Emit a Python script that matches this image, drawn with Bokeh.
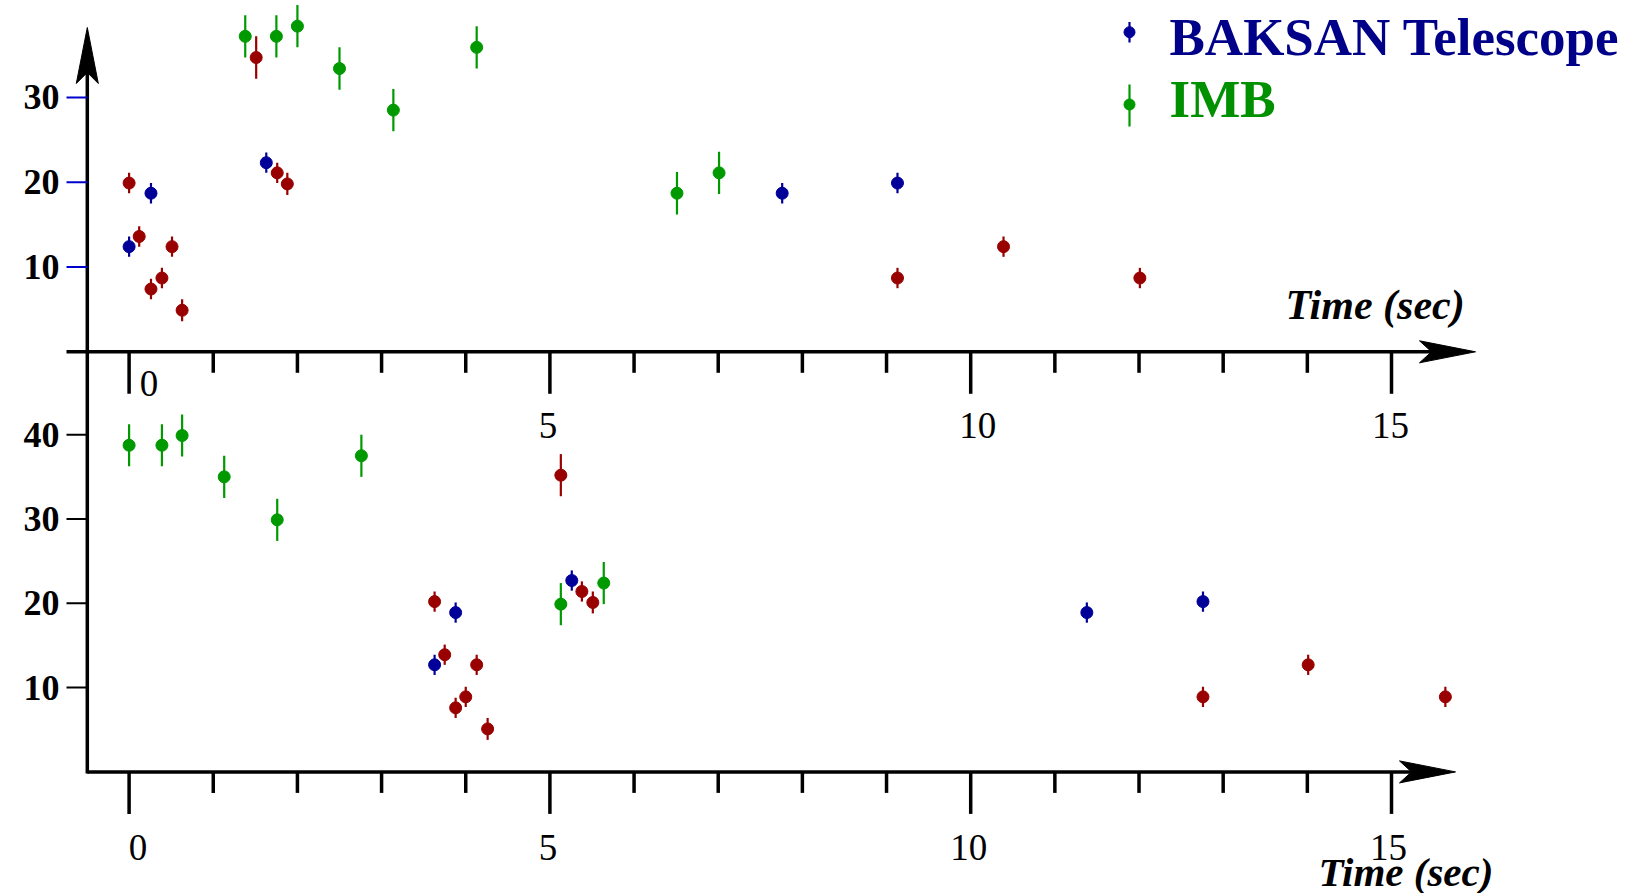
from bokeh.plotting import figure
from bokeh.models import Range1d
from bokeh.core.properties import value
from bokeh.embed import file_html
from bokeh.resources import INLINE

# ---------------- data (time in s, energy in MeV, error in MeV) ----------------
# upper panel
top_kam_t = [0.00, 0.12, 0.26, 0.39, 0.51, 0.63, 1.51, 1.76, 1.88, 9.13, 10.39, 12.01]
top_kam_e = [19.9, 13.6, 7.4, 8.7, 12.4, 4.9, 34.7, 21.1, 19.8, 8.7, 12.4, 8.7]
top_kam_err = [1.2, 1.2, 1.2, 1.2, 1.2, 1.3, 2.5, 1.2, 1.3, 1.2, 1.2, 1.2]

top_bak_t = [0.00, 0.26, 1.63, 7.76, 9.13]
top_bak_e = [12.4, 18.7, 22.3, 18.7, 19.9]
top_bak_err = [1.2, 1.2, 1.2, 1.2, 1.2]

top_imb_t = [1.38, 1.75, 2.00, 2.50, 3.14, 4.13, 6.51, 7.01]
top_imb_e = [37.2, 37.2, 38.4, 33.4, 28.5, 35.9, 18.7, 21.1]
top_imb_err = [2.5, 2.5, 2.5, 2.5, 2.5, 2.5, 2.5, 2.5]

# lower panel
bot_kam_t = [3.63, 3.75, 3.88, 4.00, 4.13, 4.26, 5.13, 5.38, 5.51, 12.76, 14.01, 15.64]
bot_kam_e = [20.2, 13.9, 7.6, 8.9, 12.7, 5.1, 35.2, 21.4, 20.1, 8.9, 12.7, 8.9]
bot_kam_err = [1.2, 1.2, 1.2, 1.2, 1.2, 1.3, 2.5, 1.2, 1.3, 1.2, 1.2, 1.2]

bot_bak_t = [3.63, 3.88, 5.26, 11.38, 12.76]
bot_bak_e = [12.7, 18.9, 22.7, 18.9, 20.2]
bot_bak_err = [1.2, 1.2, 1.2, 1.2, 1.2]

bot_imb_t = [0.00, 0.39, 0.63, 1.13, 1.76, 2.76, 5.13, 5.64]
bot_imb_e = [38.75, 38.75, 39.9, 35.0, 29.9, 37.5, 19.9, 22.4]
bot_imb_err = [2.5, 2.5, 2.5, 2.5, 2.5, 2.5, 2.5, 2.5]

# axes / ticks / labels
x_major = [0, 5, 10, 15]
x_minor = [1, 2, 3, 4, 6, 7, 8, 9, 11, 12, 13, 14]
x_labels = ["0", "5", "10", "15"]
top_y_ticks = [10, 20, 30]
top_y_labels = ["10", "20", "30"]
bot_y_ticks = [10, 20, 30, 40]
bot_y_labels = ["10", "20", "30", "40"]
legend_labels = ["BAKSAN Telescope", "IMB"]
axis_title = "Time (sec)"

# ---------------- colours ----------------
RED = "#990000"
BLUE = "#000099"
GREEN = "#009900"
NAVY_TXT = "#000088"
GREEN_TXT = "#009000"
TICK_BLUE = "#0000cc"

# ---------------- layout (pixels) ----------------
W, H = 1634, 893
X0_PX, PX_S = 128.6, 84.16          # x = 0 s position, px per second
TOP0_PX, TOP_PPU = 351.3, 8.48      # upper panel zero line, px per MeV
BOT0_PX, BOT_PPU = 771.4, 8.43      # lower panel zero line, px per MeV


def xs(px):
    return (px - X0_PX) / PX_S


def yt(px):
    return (TOP0_PX - px) / TOP_PPU


def yb(px):
    return (BOT0_PX - px) / BOT_PPU


p = figure(width=W, height=H, min_border=0, x_axis_location=None, y_axis_location=None,
           toolbar_location=None, output_backend="svg", outline_line_color=None,
           x_range=Range1d(xs(0), xs(W)), y_range=Range1d(yt(H), yt(0)))
p.extra_y_ranges = {"bot": Range1d(yb(H), yb(0))}
try:
    p.grid.visible = False
except Exception:
    pass
p.background_fill_color = "white"
p.border_fill_color = "white"

FONT = value("Liberation Serif")
AXIS_X = xs(86.8)
LW = 3.5
XLAB_SIZE = "37px"
YLAB_SIZE = "36px"
TITLE_SIZE = "42px"


def draw_series(t, e, err, color, rng):
    kw = {} if rng is None else {"y_range_name": rng}
    p.segment(x0=t, y0=[a - b for a, b in zip(e, err)], x1=t, y1=[a + b for a, b in zip(e, err)],
              line_color=color, line_width=2.2, **kw)
    p.scatter(x=t, y=e, marker="circle", size=12, fill_color=color, line_color=color, **kw)


def draw_x_axis(x_start_px, tip_px, rng, ppu):
    kw = {} if rng is None else {"y_range_name": rng}
    p.segment(x0=[xs(x_start_px)], y0=[0], x1=[xs(tip_px - 40)], y1=[0],
              line_color="black", line_width=LW, **kw)
    # ticks pointing down
    p.segment(x0=x_major, y0=[0] * len(x_major), x1=x_major, y1=[-42 / ppu] * len(x_major),
              line_color="black", line_width=LW, **kw)
    p.segment(x0=x_minor, y0=[0] * len(x_minor), x1=x_minor, y1=[-21 / ppu] * len(x_minor),
              line_color="black", line_width=LW, **kw)
    # arrow head
    hx = [xs(tip_px), xs(tip_px - 56), xs(tip_px - 44), xs(tip_px - 56)]
    hy = [0, 11 / ppu, 0, -11 / ppu]
    p.patch(x=hx, y=hy, fill_color="black", line_color="black", line_width=1, **kw)


# ---- vertical axis (continuous through both panels) ----
p.segment(x0=[AXIS_X], y0=[yt(70)], x1=[AXIS_X], y1=[yt(BOT0_PX + 1.5)],
          line_color="black", line_width=LW)
dxh = 11 / PX_S
p.patch(x=[AXIS_X, AXIS_X - dxh, AXIS_X, AXIS_X + dxh],
        y=[yt(27), yt(83), yt(72), yt(83)], fill_color="black", line_color="black", line_width=1)

# ---- upper panel axes ----
draw_x_axis(66, 1475, None, TOP_PPU)
p.segment(x0=[xs(66)] * 3, y0=top_y_ticks, x1=[AXIS_X] * 3, y1=top_y_ticks,
          line_color=TICK_BLUE, line_width=2)
p.text(x=[xs(59)] * 3, y=top_y_ticks, text=top_y_labels, text_align="right", text_baseline="middle",
       text_font=FONT, text_font_style="bold", text_font_size=YLAB_SIZE, text_color="black")
p.text(x=[x_major[0]], y=[yt(383)], text=[x_labels[0]], text_align="center", text_baseline="middle",
       text_font=FONT, text_font_size=XLAB_SIZE, text_color="black", x_offset=20)
p.text(x=x_major[1:], y=[yt(425)] * 3, text=x_labels[1:], text_align="center", text_baseline="middle",
       text_font=FONT, text_font_size=XLAB_SIZE, text_color="black", x_offset=[-2, 7, -1])
p.text(x=[xs(1285)], y=[yt(304)], text=[axis_title], text_align="left", text_baseline="middle",
       text_font=FONT, text_font_style="bold italic", text_font_size=TITLE_SIZE, text_color="black")

# ---- lower panel axes ----
draw_x_axis(86.8, 1455, "bot", BOT_PPU)
p.segment(x0=[xs(66)] * 4, y0=bot_y_ticks, x1=[AXIS_X] * 4, y1=bot_y_ticks,
          line_color="black", line_width=2, y_range_name="bot")
p.text(x=[xs(59)] * 4, y=bot_y_ticks, text=bot_y_labels, text_align="right", text_baseline="middle",
       text_font=FONT, text_font_style="bold", text_font_size=YLAB_SIZE, text_color="black",
       y_range_name="bot")
p.text(x=[x_major[0]], y=[yb(847)], text=[x_labels[0]], text_align="center", text_baseline="middle",
       text_font=FONT, text_font_size=XLAB_SIZE, text_color="black", x_offset=9, y_range_name="bot")
p.text(x=x_major[1:], y=[yb(847)] * 3, text=x_labels[1:], text_align="center", text_baseline="middle",
       text_font=FONT, text_font_size=XLAB_SIZE, text_color="black", x_offset=[-2, -2, -3],
       y_range_name="bot")
p.text(x=[xs(1318)], y=[yb(871)], text=[axis_title], text_align="left", text_baseline="middle",
       text_font=FONT, text_font_style="bold italic", text_font_size="41px", text_color="black",
       y_range_name="bot")

# ---- data ----
draw_series(top_imb_t, top_imb_e, top_imb_err, GREEN, None)
draw_series(top_kam_t, top_kam_e, top_kam_err, RED, None)
draw_series(top_bak_t, top_bak_e, top_bak_err, BLUE, None)
draw_series(bot_imb_t, bot_imb_e, bot_imb_err, GREEN, "bot")
draw_series(bot_kam_t, bot_kam_e, bot_kam_err, RED, "bot")
draw_series(bot_bak_t, bot_bak_e, bot_bak_err, BLUE, "bot")

# ---- legend ----
lx = xs(1129)
p.segment(x0=[lx, lx], y0=[yt(21.5), yt(84)], x1=[lx, lx], y1=[yt(42), yt(126)],
          line_color=[BLUE, GREEN], line_width=2.2)
p.scatter(x=[lx, lx], y=[yt(31.7), yt(104)], marker="circle", size=11,
          fill_color=[BLUE, GREEN], line_color=[BLUE, GREEN])
p.text(x=[xs(1169)], y=[yt(36)], text=[legend_labels[0]], text_align="left", text_baseline="middle",
       text_font=FONT, text_font_style="bold", text_font_size="53px", text_color=NAVY_TXT)
p.text(x=[xs(1169)], y=[yt(98.5)], text=[legend_labels[1]], text_align="left", text_baseline="middle",
       text_font=FONT, text_font_style="bold", text_font_size="53px", text_color=GREEN_TXT)

open("out.html", "w").write(file_html(p, INLINE))
